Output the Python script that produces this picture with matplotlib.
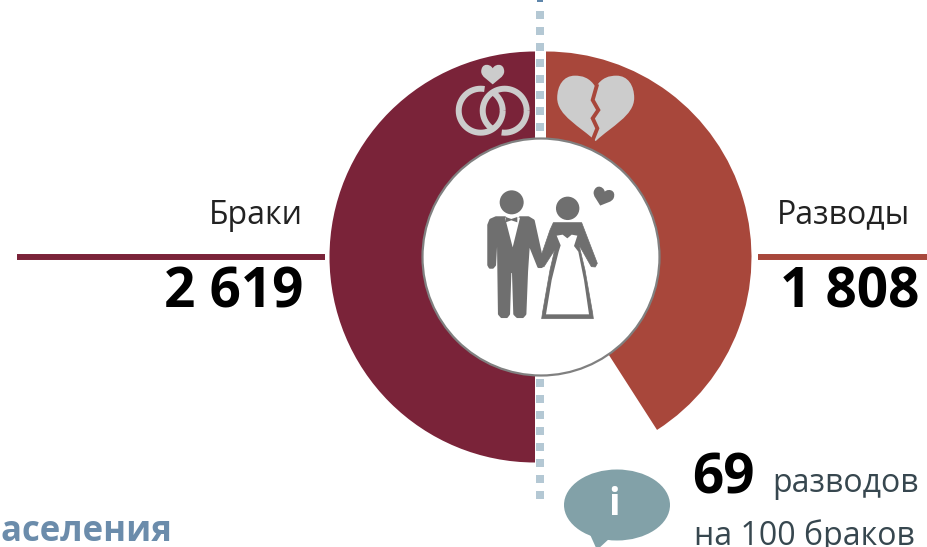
import numpy as np
import matplotlib
matplotlib.use('Agg')
import matplotlib.pyplot as plt
from matplotlib.patches import Wedge, Circle, Ellipse, Polygon, PathPatch, Rectangle
from matplotlib.path import Path
from matplotlib.transforms import Affine2D

plt.rcParams['font.family'] = ['Open Sans', 'DejaVu Sans']

categories = ['Браки', 'Разводы']
values = ['2 619', '1 808']
# sweep of each half, degrees
sweeps = [180, 147.3]
ratio_value = '69'
ratio_line1 = 'разводов'
ratio_line2 = 'на 100 браков'
cut_title = 'населения'

MAR = '#7a2339'
DIV = '#a8473b'
ICON = '#cccccc'
MAN = '#6f6f6f'

fig = plt.figure(figsize=(9.27, 5.47), dpi=100)
ax = fig.add_axes([0, 0, 1, 1])
ax.set_xlim(0, 927)
ax.set_ylim(547, 0)
ax.axis('off')


def heart_path(cx, cy, w, rot=0):
    v = [(0, .15), (-.08, .02), (-.18, 0), (-.27, 0), (-.42, 0), (-.5, .13), (-.5, .29),
         (-.5, .52), (-.2, .66), (0, .85), (.2, .66), (.5, .52), (.5, .29),
         (.5, .13), (.42, 0), (.27, 0), (.18, 0), (.08, .02), (0, .15), (0, .15)]
    c = [Path.MOVETO] + [Path.CURVE4] * 18 + [Path.CLOSEPOLY]
    v = np.array(v) - [0, .42]
    tr = Affine2D().scale(w).rotate_deg(rot).translate(cx, cy)
    return Path(tr.transform(v), c)


def ring(cx, cy, r, gaps, color, lw):
    t = np.radians(np.arange(0, 361, 2))
    keep = np.ones(t.size, bool)
    deg = np.degrees(t)
    for g0, g1 in gaps:
        keep &= ~((deg > g0) & (deg < g1))
    x = np.where(keep, cx + r * np.cos(t), np.nan)
    y = np.where(keep, cy + r * np.sin(t), np.nan)
    ax.plot(x, y, color=color, lw=lw, solid_capstyle='butt', zorder=4)


#%% dotted line
ax.plot([540, 540], [11, 500], color='#b4c8d4', lw=5.76, linestyle=(0, (1, 1)),
        dash_capstyle='butt', zorder=1)
ax.add_patch(Rectangle((537, 0), 6, 2, color='#5f86ab', lw=0))

#%% donut
ax.add_patch(Wedge((535, 257), 205.5, 270 - sweeps[0], 270, color=MAR, lw=0, zorder=2))
ax.add_patch(Wedge((546, 257), 205.5, 270, 270 + sweeps[1], color=DIV, lw=0, zorder=2))
ax.add_patch(Circle((541, 257), 118.5, fc='white', ec='#808080', lw=1.6, zorder=3))

#%% leader lines and labels
ax.plot([17, 325], [257, 257], color=MAR, lw=4.3, solid_capstyle='butt')
ax.plot([758, 927], [257, 257], color=DIV, lw=4.3, solid_capstyle='butt')
ax.text(303, 215, categories[0], ha='right', va='center', fontsize=23, color='#222222')
ax.text(910, 215, categories[1], ha='right', va='center', fontsize=23, color='#222222')
ax.text(303, 308, values[0], ha='right', va='baseline', fontsize=39.5, fontweight='bold', color='black')
ax.text(919, 308, values[1], ha='right', va='baseline', fontsize=39.5, fontweight='bold', color='black')

#%% rings icon
ring(480.7, 110.7, 22, [(-80 + 360, -60 + 360)], ICON, 4.3)
ring(504.7, 110.7, 22, [(98, 125)], ICON, 4.3)
ax.add_patch(PathPatch(heart_path(492.7, 74.5, 23), fc=ICON, ec='none', zorder=4))

#%% broken heart icon
ax.add_patch(PathPatch(heart_path(595.7, 108, 77), fc=ICON, ec='none', zorder=4))
crack = np.array([(470, 258), (458, 300), (475, 330), (458, 355), (472, 385), (458, 420)]) / 3 + [440, 0]
ax.plot(crack[:, 0], crack[:, 1], color=DIV, lw=2.8, zorder=5, solid_joinstyle='miter')


#%% couple, coordinates taken from a 3x crop
def z(pts):
    return np.array(pts) / 3 + [470, 170]


ax.add_patch(Circle(z([(125, 97)])[0], 12, color=MAN, lw=0, zorder=5))
man = [(56, 165), (62, 150), (78, 143), (105, 143), (128, 235), (150, 143), (175, 143), (190, 152),
       (218, 280), (214, 290), (206, 290), (176, 215), (170, 305), (165, 432), (158, 440), (142, 440),
       (134, 432), (130, 305), (120, 305), (116, 432), (110, 440), (95, 440), (88, 432), (85, 210),
       (78, 210), (74, 285), (68, 292), (60, 292), (56, 285)]
ax.add_patch(Polygon(z(man), closed=True, fc=MAN, ec=MAN, lw=2, joinstyle='round', zorder=5))
bow = [(107, 141), (124, 147), (142, 141), (142, 157), (124, 151), (107, 157)]
shirt = [(105, 143), (128, 232), (150, 143)]
ax.add_patch(Polygon(z(shirt), closed=True, fc='white', ec='none', zorder=5.5))
ax.add_patch(Polygon(z(bow), closed=True, fc=MAN, ec='none', zorder=6))

ax.add_patch(Circle(z([(293, 115)])[0], 11.7, color=MAN, lw=0, zorder=5))
bride = [(250, 158), (335, 158), (382, 280), (376, 291), (364, 290), (327, 225), (345, 300), (368, 430),
         (370, 446), (215, 446), (218, 425), (240, 300), (254, 240), (222, 290), (212, 292), (205, 282),
         (240, 180)]
ax.add_patch(Polygon(z(bride), closed=True, fc=MAN, ec=MAN, lw=0.5, joinstyle='round', zorder=5))
dress = [(260, 197), (278, 194), (292, 205), (305, 194), (322, 197), (312, 228), (325, 245), (342, 330),
         (357, 433), (228, 433), (245, 330), (266, 245), (272, 226)]
ax.add_patch(Polygon(z(dress), closed=True, fc='white', ec='none', zorder=6))
ax.add_patch(PathPatch(heart_path(603, 197, 21, rot=18), fc=MAN, ec='none', zorder=5))

#%% info bubble
ax.add_patch(Ellipse((617, 505), 106, 71, color='#82a1a8', lw=0))
ax.add_patch(Polygon([(588, 530), (610, 538), (597, 550)], closed=True, color='#82a1a8', lw=0))
ax.text(614, 505, 'i', ha='center', va='center', fontsize=27, fontweight='bold', color='white')

#%% ratio text
ax.text(692, 493, ratio_value, ha='left', va='baseline', fontsize=39.5, fontweight='bold', color='black')
ax.text(772, 492, ratio_line1, ha='left', va='baseline', fontsize=23, color='#37474f')
ax.text(694, 545, ratio_line2, ha='left', va='baseline', fontsize=23, color='#37474f')

#%% cut off title
ax.text(172, 541, cut_title, ha='right', va='baseline', fontsize=25, fontweight='bold', color='#6b8cab')

fig.savefig('out.png', dpi=100)
